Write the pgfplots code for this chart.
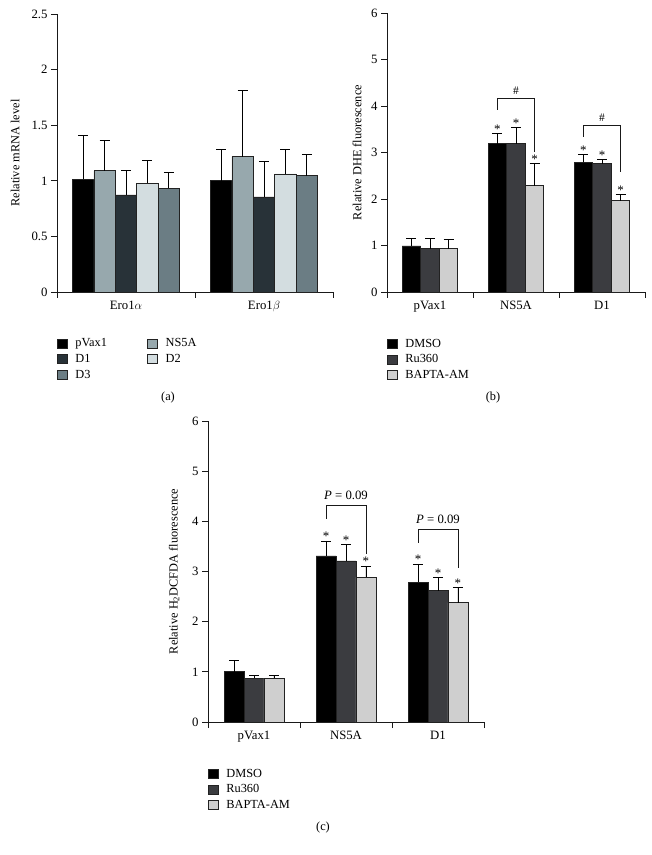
\documentclass[border=0pt]{standalone}
\usepackage{pgfplots}
\pgfplotsset{compat=1.18}
\usepackage{fontspec}
\setmainfont{Liberation Serif}
\definecolor{cPV}{HTML}{000000}
\definecolor{cNS}{HTML}{97A8AD}
\definecolor{cDa}{HTML}{283238}
\definecolor{cDb}{HTML}{D3DDE0}
\definecolor{cDc}{HTML}{6B7D84}
\definecolor{cDM}{HTML}{000000}
\definecolor{cRu}{HTML}{3B3C40}
\definecolor{cBA}{HTML}{CFCFCF}
\definecolor{edge}{HTML}{222222}
\tikzset{sig/.style={font=\fontsize{13}{15}\selectfont, anchor=base, inner sep=0pt}}
\pgfplotsset{
  panel/.style={
    scale only axis,
    clip=false,
    axis x line*=bottom, axis y line*=left,
    axis line style={line width=0.8pt, color=black!90},
    ymin=0,
    ybar=0pt,
    tick align=outside,
    major tick length=6bp,
    minor tick length=6bp,
    every major x tick/.append style={draw=none},
    every minor x tick/.append style={line width=0.8pt, black!90},
    every major y tick/.append style={line width=0.8pt, black!90},
    ticklabel style={font=\fontsize{12.8}{14}\selectfont},
    /pgf/number format/assume math mode=true,
    ylabel style={font=\fontsize{12.4}{14}\selectfont, anchor=center},
    every axis plot/.append style={draw=edge, line width=0.8pt},
    error bars/y dir=plus, error bars/y explicit,
    error bars/error bar style={line width=0.8pt, black},
    error bars/error mark options={rotate=90, line width=0.8pt, black, mark size=5bp},
    legend cell align=left,
    legend image code/.code={\draw[##1, draw=edge, line width=0.6pt] (0bp,-4.5bp) rectangle (9.5bp,4.5bp); \path (16bp,0bp);},
    legend style={draw=none, fill=none, inner sep=0pt,
      font=\fontsize{12.4}{14}\selectfont,
      nodes={inner sep=1.5bp}, row sep=3bp},
  },
}
\begin{document}
\begin{tikzpicture}
\useasboundingbox (0bp,0bp) rectangle (652bp,855bp);
% ---------------- (a)
\begin{axis}[panel,
  at={(57bp,563bp)}, anchor=south west, width=276bp, height=278bp,
  ymax=2.5, ytick={0,0.5,1,1.5,2,2.5},
  yticklabels={0,0.5,1,1.5,2,2.5},
  xmin=-0.5, xmax=1.5, xtick={0,1}, xticklabels={Ero1$\alpha$, Ero1$\beta$},
  minor xtick={-0.5,0.5,1.5},
  bar width=0.155,
  ylabel={Relative mRNA level},
  ylabel style={at={(axis description cs:-0.152,0.5)}},
  legend columns=2,
  legend style={at={(axis description cs:0,-0.162)}, anchor=north west,
    /tikz/every even column/.append style={column sep=39bp}},
]
\addplot[fill=cPV] coordinates {(0,1.014) +- (0,0.396) (1,1.0) +- (0,0.28)};
\addplot[fill=cNS] coordinates {(0,1.09) +- (0,0.275) (1,1.218) +- (0,0.592)};
\addplot[fill=cDa] coordinates {(0,0.873) +- (0,0.217) (1,0.855) +- (0,0.315)};
\addplot[fill=cDb] coordinates {(0,0.98) +- (0,0.205) (1,1.062) +- (0,0.218)};
\addplot[fill=cDc] coordinates {(0,0.933) +- (0,0.144) (1,1.047) +- (0,0.189)};
\legend{pVax1, NS5A, D1, D2, D3}
\end{axis}
% ---------------- (b)
\begin{axis}[panel,
  at={(387bp,563bp)}, anchor=south west, width=258bp, height=279bp,
  ymax=6, ytick={0,1,2,3,4,5,6},
  xmin=-0.5, xmax=2.5, xtick={0,1,2}, xticklabels={pVax1, NS5A, D1},
  minor xtick={-0.5,0.5,1.5,2.5},
  bar width=0.216,
  ylabel={Relative DHE fluorescence},
  ylabel style={at={(axis description cs:-0.116,0.5)}},
  legend style={at={(axis description cs:0,-0.162)}, anchor=north west},
]
\addplot[fill=cDM] coordinates {(0,0.99) +- (0,0.17) (1,3.19) +- (0,0.22) (2,2.79) +- (0,0.17)};
\addplot[fill=cRu] coordinates {(0,0.93) +- (0,0.23) (1,3.19) +- (0,0.34) (2,2.76) +- (0,0.09)};
\addplot[fill=cBA] coordinates {(0,0.93) +- (0,0.20) (1,2.29) +- (0,0.48) (2,1.96) +- (0,0.13)};
\legend{DMSO, Ru360, BAPTA-AM}
\node[sig] at (axis cs:0.784,3.41) {*};
\node[sig] at (axis cs:1.0,3.53) {*};
\node[sig] at (axis cs:1.216,2.77) {*};
\node[sig] at (axis cs:1.784,2.96) {*};
\node[sig] at (axis cs:2.0,2.85) {*};
\node[sig] at (axis cs:2.216,2.09) {*};
\draw[line width=0.8pt, black!90] (axis cs:0.784,3.92) -- (axis cs:0.784,4.17) -- (axis cs:1.216,4.17) -- (axis cs:1.216,3.02);
\draw[line width=0.8pt, black!90] (axis cs:1.784,3.34) -- (axis cs:1.784,3.58) -- (axis cs:2.216,3.58) -- (axis cs:2.216,2.59);
\node[sig, font=\fontsize{11.5}{13}\selectfont, yshift=4bp] at (axis cs:1,4.17) {\#};
\node[sig, font=\fontsize{11.5}{13}\selectfont, yshift=4bp] at (axis cs:2,3.58) {\#};
\end{axis}
% ---------------- (c)
\begin{axis}[panel,
  at={(208bp,133bp)}, anchor=south west, width=276bp, height=301bp,
  ymax=6, ytick={0,1,2,3,4,5,6},
  xmin=-0.5, xmax=2.5, xtick={0,1,2}, xticklabels={pVax1, NS5A, D1},
  minor xtick={-0.5,0.5,1.5,2.5},
  bar width=0.217,
  ylabel={Relative H\textsubscript{2}DCFDA fluorescence},
  ylabel style={at={(axis description cs:-0.123,0.5)}},
  legend style={at={(axis description cs:0,-0.15)}, anchor=north west},
]
\addplot[fill=cDM] coordinates {(0,1.0) +- (0,0.23) (1,3.31) +- (0,0.30) (2,2.79) +- (0,0.36)};
\addplot[fill=cRu] coordinates {(0,0.874) +- (0,0.056) (1,3.21) +- (0,0.33) (2,2.62) +- (0,0.27)};
\addplot[fill=cBA] coordinates {(0,0.874) +- (0,0.056) (1,2.89) +- (0,0.22) (2,2.38) +- (0,0.30)};
\legend{DMSO, Ru360, BAPTA-AM}
\node[sig] at (axis cs:0.783,3.61) {*};
\node[sig] at (axis cs:1.0,3.54) {*};
\node[sig] at (axis cs:1.217,3.11) {*};
\node[sig] at (axis cs:1.783,3.15) {*};
\node[sig] at (axis cs:2.0,2.89) {*};
\node[sig] at (axis cs:2.217,2.68) {*};
\draw[line width=0.8pt, black!90] (axis cs:0.783,4.05) -- (axis cs:0.783,4.31) -- (axis cs:1.217,4.31) -- (axis cs:1.217,3.34);
\draw[line width=0.8pt, black!90] (axis cs:1.783,3.57) -- (axis cs:1.783,3.83) -- (axis cs:2.217,3.83) -- (axis cs:2.217,3.06);
\node[font=\fontsize{12.8}{14}\selectfont, anchor=base, inner sep=0pt, yshift=6bp] at (axis cs:1,4.31) {\textit{P} = 0.09};
\node[font=\fontsize{12.8}{14}\selectfont, anchor=base, inner sep=0pt, yshift=6bp] at (axis cs:2,3.83) {\textit{P} = 0.09};
\end{axis}
\node[font=\fontsize{12.4}{14}\selectfont] at (168bp,457bp) {(a)};
\node[font=\fontsize{12.4}{14}\selectfont] at (493bp,457bp) {(b)};
\node[font=\fontsize{12.4}{14}\selectfont] at (323bp,27bp) {(c)};
\end{tikzpicture}
\end{document}
